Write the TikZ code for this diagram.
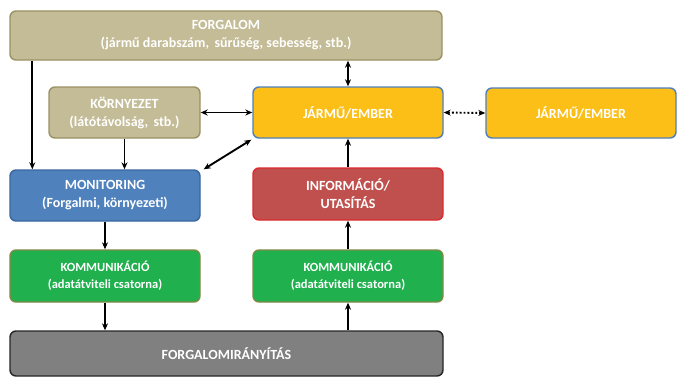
\documentclass[tikz,border=0pt]{standalone}
\usepackage{fontspec}
\setmainfont{Carlito}
\usetikzlibrary{arrows.meta, calc}
\definecolor{tanfill}{HTML}{C4BC96}
\definecolor{tanline}{HTML}{9A9262}
\definecolor{yelfill}{HTML}{FCBF17}
\definecolor{yelline}{HTML}{4F7FB8}
\definecolor{bluefill}{HTML}{4F81BD}
\definecolor{blueline}{HTML}{3A679E}
\definecolor{redfill}{HTML}{C0504D}
\definecolor{redline}{HTML}{DD2A2E}
\definecolor{grnfill}{HTML}{20B04E}
\definecolor{grnline}{HTML}{7D8B45}
\definecolor{gryfill}{HTML}{808080}
\definecolor{gryline}{HTML}{262626}
\tikzset{%
    box/.style={rectangle, rounded corners=6pt, line width=1.4pt, text=white,
        font=\bfseries\fontsize{14}{18}\selectfont, align=center, inner sep=0pt},
    boxs/.style={box, font=\bfseries\fontsize{12.5}{17}\selectfont},
    tanbox/.style={box, fill=tanfill, draw=tanline},
    yelbox/.style={box, fill=yelfill, draw=yelline},
    bluebox/.style={box, fill=bluefill, draw=blueline},
    redbox/.style={box, fill=redfill, draw=redline},
    grnbox/.style={boxs, fill=grnfill, draw=grnline},
    grybox/.style={box, fill=gryfill, draw=gryline},
    pria/.style={line width=1.9pt, -{Stealth[length=7pt, width=6pt]}},
    prida/.style={line width=1.9pt, {Stealth[length=7pt, width=6pt]}-{Stealth[length=7pt, width=6pt]}},
    dotda/.style={prida, dotted},
}
\begin{document}
\begin{tikzpicture}[x=1pt, y=-1pt]
    \useasboundingbox (0,0) rectangle (678,378);
    \node [tanbox, minimum width=432pt, minimum height=49pt] (forg) at (226,35.5)
        {FORGALOM\\(jármű darabszám,\, sűrűség, sebesség, stb.)};
    \node [tanbox, minimum width=151pt, minimum height=51pt] (korny) at (124.5,112.5)
        {KÖRNYEZET\\(látótávolság,\, stb.)};
    \node [yelbox, minimum width=190pt, minimum height=51pt] (jarmu) at (348,112.5) {JÁRMŰ/EMBER};
    \node [yelbox, minimum width=190pt, minimum height=50pt] (jarmub) at (581,113) {JÁRMŰ/EMBER};
    \node [bluebox, minimum width=190pt, minimum height=51pt] (monit) at (105,195.5)
        {MONITORING\\(Forgalmi, környezeti)};
    \node [redbox, minimum width=190pt, minimum height=52pt] (info) at (348,194)
        {INFORMÁCIÓ/\\UTASÍTÁS};
    \node [grnbox, minimum width=190pt, minimum height=52pt] (komma) at (105,276)
        {KOMMUNIKÁCIÓ\\(adatátviteli csatorna)};
    \node [grnbox, minimum width=190pt, minimum height=52pt] (kommb) at (348,276)
        {KOMMUNIKÁCIÓ\\(adatátviteli csatorna)};
    \node [grybox, minimum width=433pt, minimum height=45pt] (irany) at (226.5,353.5) {FORGALOMIRÁNYÍTÁS};
    % connectors
    \coordinate (fa) at ($(forg.south west)+(23,0)$);
    \coordinate (ma) at ($(monit.north west)+(23,0)$);
    \draw [pria] (fa) -- (ma);
    \draw [pria] (korny.south) -- (korny.south |- monit.north);
    \draw [prida] (korny.east) -- (jarmu.west);
    \draw [prida] (forg.south -| jarmu.north) -- (jarmu.north);
    \draw [dotda] (jarmu.east) -- (jarmub.west);
    \draw [prida] ($(monit.north east)+(3,0)$) -- ($(jarmu.south west)+(-1,1)$);
    \draw [pria] (info.north) -- (jarmu.south);
    \draw [pria] (monit.south) -- (komma.north);
    \draw [pria] (komma.south) -- (komma.south |- irany.north);
    \draw [pria] (irany.north -| kommb.south) -- (kommb.south);
    \draw [pria] (kommb.north) -- (info.south);
\end{tikzpicture}
\end{document}
